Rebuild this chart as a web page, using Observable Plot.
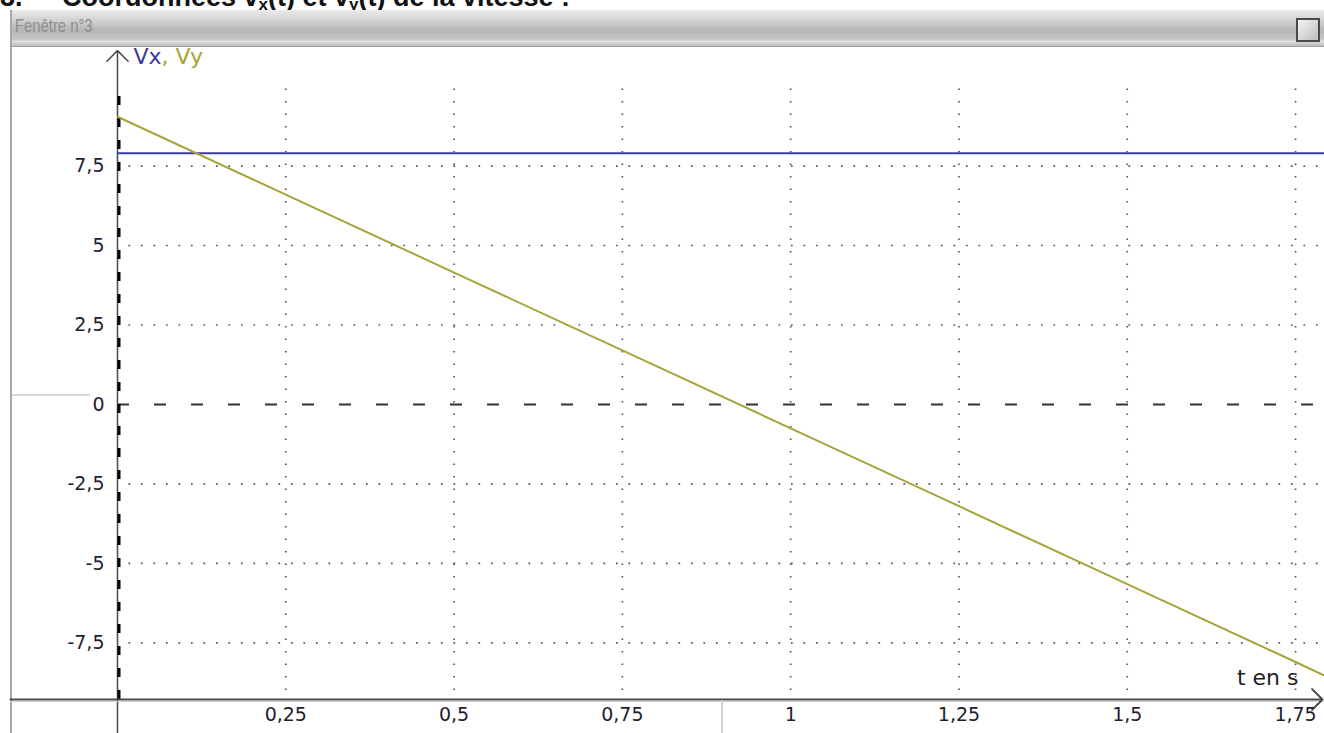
<!DOCTYPE html>
<html><head><meta charset="utf-8">
<script src="https://cdn.jsdelivr.net/npm/d3@7"></script>
<script src="https://cdn.jsdelivr.net/npm/@observablehq/plot@0.6"></script>
<style>
html,body{margin:0;padding:0;background:#fff}
body{width:1324px;height:733px;overflow:hidden;position:relative;font-family:"DejaVu Sans",sans-serif}
#heading{position:absolute;left:0;top:0;width:800px;height:11px;overflow:hidden}
#heading span{position:absolute;top:-16px;line-height:27px;font-family:"Liberation Sans",sans-serif;font-weight:bold;font-size:27px;color:#111;white-space:nowrap}
#heading sub{font-size:17px;vertical-align:-4px;line-height:0}
#frame{position:absolute;left:10px;top:10px;width:1314px;height:723px;border-left:2px solid #a8a8a8;box-sizing:border-box}
#titlebar{position:absolute;left:0;top:0;right:0;height:36px;background:linear-gradient(#ececec 0%,#d0d0d0 30%,#b6b6b6 55%,#c4c4c4 80%,#e2e2e2 88%,#cfcfcf 92%,#bdbdbd 100%);border-bottom:1px solid #a0a0a0}
#titlebar span{position:absolute;left:3px;top:5px;font-family:"Liberation Sans",sans-serif;font-size:19px;color:#8e8e8e;transform:scaleX(0.78);transform-origin:left}
#btn{position:absolute;right:4px;top:8px;width:20px;height:20px;border:2px solid #4a4a4a;background:linear-gradient(135deg,#f4f4f4,#bdbdbd)}
.deco{position:absolute}
</style></head><body>
<div id="heading"><span style="left:0">3.</span><span style="left:62px">Coordonnées v<sub>x</sub>(t) et v<sub>y</sub>(t) de la vitesse :</span></div>
<div id="frame">
  <div id="titlebar"><span>Fenêtre n°3</span><div id="btn"></div></div>
</div>
<div id="plot" style="position:absolute;left:10px;top:46px"></div>
<div class="deco" style="left:12px;top:394px;width:78px;height:2px;background:#d8d8d8"></div>
<div class="deco" style="left:721px;top:700px;width:2px;height:33px;background:#cfcfcf"></div>
<script>
// measured time samples (s)
const t  = [0, 0.25, 0.5, 0.75, 1.0, 1.25, 1.5, 1.75, 1.8];
// horizontal velocity component Vx (m/s)
const vx = [7.9, 7.9, 7.9, 7.9, 7.9, 7.9, 7.9, 7.9, 7.9];
// vertical velocity component Vy (m/s)
const vy = [9.05, 6.6, 4.15, 1.7, -0.75, -3.2, -5.65, -8.1, -8.6];
// axis ticks
const xTicks = [0.25, 0.5, 0.75, 1, 1.25, 1.5, 1.75];
const yTicks = [-7.5, -5, -2.5, 0, 2.5, 5, 7.5];
const xLabel = "t en s";
const seriesNames = ["Vx", ", Vy"];

const colVx = "#3a3aa2", colVy = "#a7a33a";
const xDomain = [0, 1.793], yDomain = [-9.28, 11.26];
const xLeft = -0.159, yBottomExt = -10.34;

const dVx = t.map((d, i) => ({t: d, v: vx[i]}));
const dVy = t.map((d, i) => ({t: d, v: vy[i]}));
const fmt = d => String(d).replace(".", ",");
const dotted = {stroke: "#555", strokeWidth: 1.7, strokeDasharray: "1.7,10.8"};

const chart = Plot.plot({
  width: 1314, height: 687,
  marginLeft: 107, marginRight: 0, marginTop: 0, marginBottom: 34,
  x: {domain: xDomain, label: null},
  y: {domain: yDomain, label: null},
  style: {fontFamily: "DejaVu Sans", background: "transparent", overflow: "visible"},
  marks: [
    Plot.ruleX(xTicks, {y1: -9.0, y2: 10.0, ...dotted}),
    Plot.ruleY(yTicks.filter(d => d !== 0), {x1: 0.017, x2: xDomain[1], ...dotted}),
    Plot.ruleY([0], {x1: 0, x2: xDomain[1], stroke: "#333", strokeWidth: 2, strokeDasharray: "12,25"}),
    Plot.arrow([0], {x1: 0, x2: 0, y1: yBottomExt, y2: 11.13, stroke: "#4a4a4a", strokeWidth: 1.5, headLength: 15, headAngle: 90}),
    Plot.ruleX([0], {y1: yDomain[0], y2: 9.8, stroke: "#000", strokeWidth: 3, dx: 1.5, strokeDasharray: "9,13"}),
    Plot.ruleY([yDomain[0]], {x1: xLeft, x2: xDomain[1], stroke: "#d0d0d0", strokeWidth: 1, dy: 2}),
    Plot.arrow([0], {x1: xLeft, x2: 1.79, y1: yDomain[0], y2: yDomain[0], stroke: "#4a4a4a", strokeWidth: 2, headLength: 11, headAngle: 90}),
    Plot.line(dVx, {x: "t", y: "v", stroke: colVx, strokeWidth: 2, clip: true}),
    Plot.line(dVy, {x: "t", y: "v", stroke: colVy, strokeWidth: 2, clip: true}),
    Plot.axisY(yTicks, {tickSize: 0, tickPadding: 13, tickFormat: fmt, fontSize: 19, fill: "#1e1e2e", label: null}),
    Plot.axisX(xTicks, {tickSize: 0, tickPadding: 8, tickFormat: fmt, fontSize: 19, fill: "#1e1e2e", label: null}),
    Plot.text([seriesNames[0]], {frameAnchor: "top-left", dx: 16, dy: 10, lineAnchor: "middle", textAnchor: "start", fill: colVx, fontSize: 22}),
    Plot.text([seriesNames[1]], {frameAnchor: "top-left", dx: 44, dy: 10, lineAnchor: "middle", textAnchor: "start", fill: colVy, fontSize: 22}),
    Plot.text([xLabel], {frameAnchor: "bottom-right", dx: -26, dy: -22, lineAnchor: "middle", textAnchor: "end", fill: "#222", fontSize: 22})
  ]
});
document.getElementById("plot").appendChild(chart);
</script>
</body></html>
